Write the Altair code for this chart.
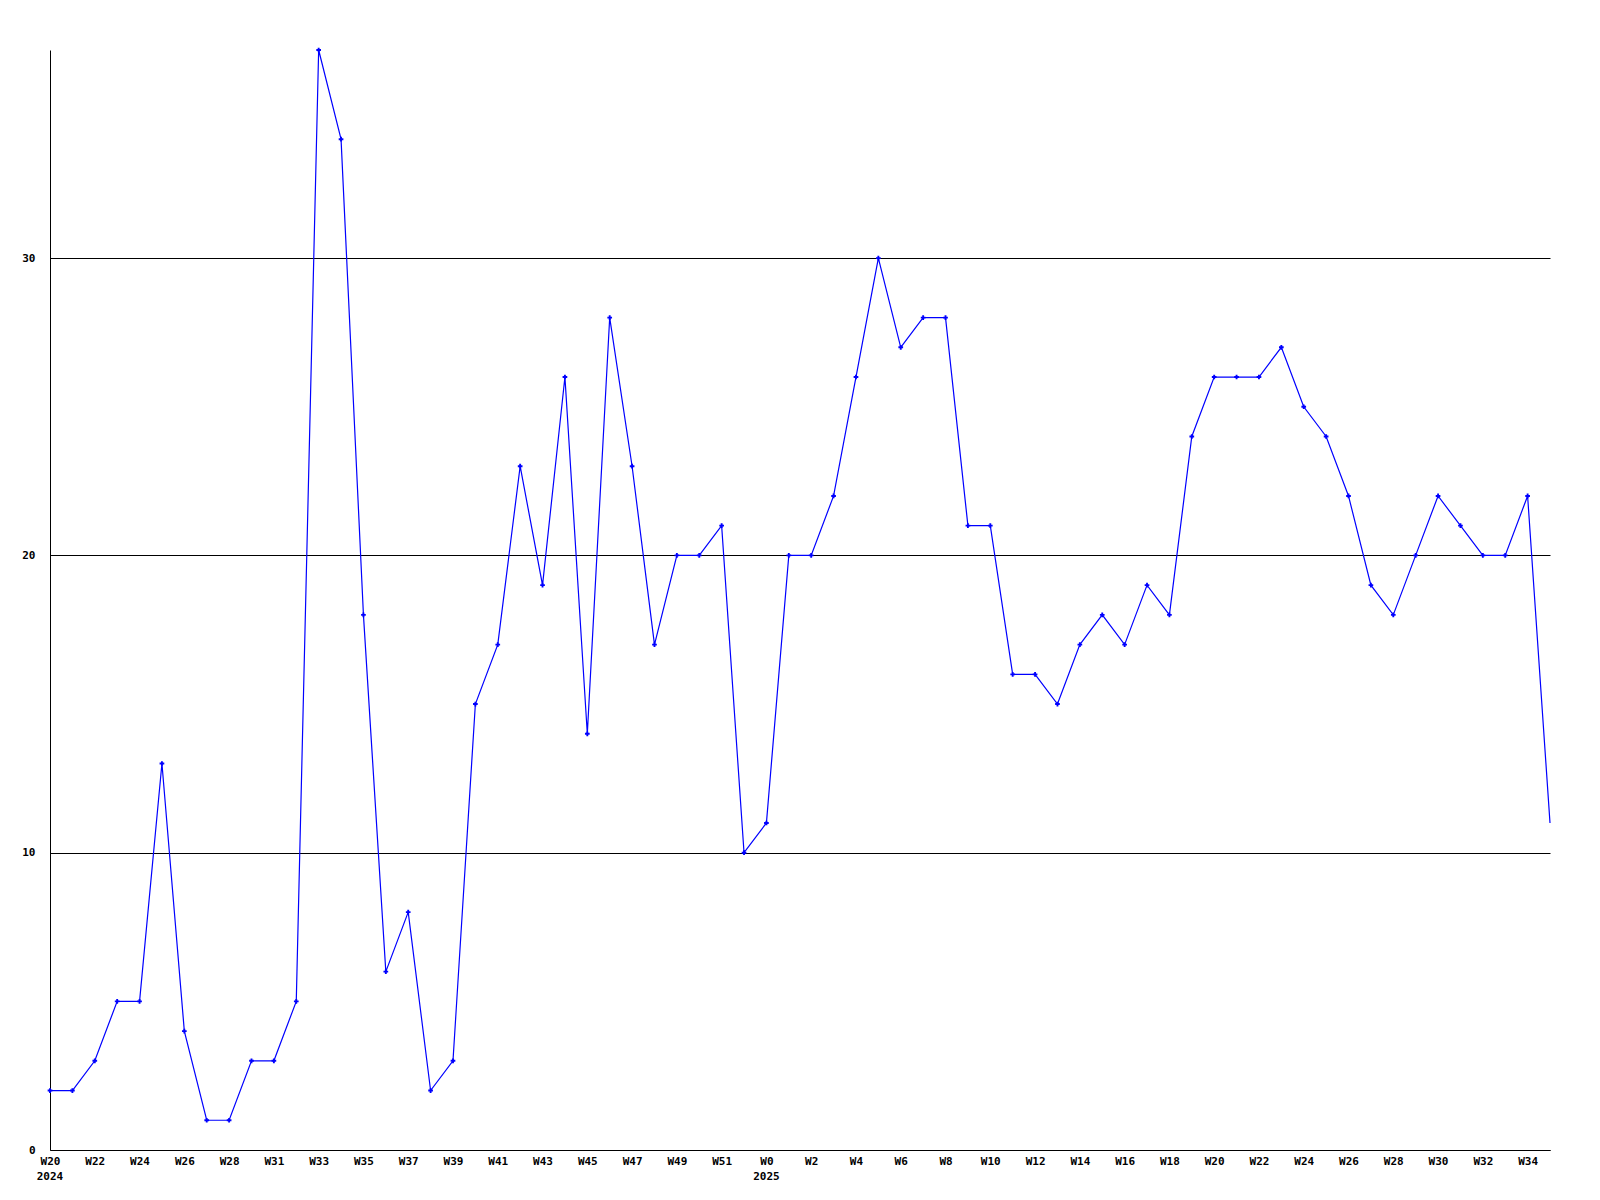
import altair as alt
import pandas as pd

values = [2, 2, 3, 5, 5, 13, 4, 1, 1, 3, 3, 5, 37, 34, 18, 6, 8, 2, 3, 15,
          17, 23, 19, 26, 14, 28, 23, 17, 20, 20, 21, 10, 11, 20, 20, 22, 26, 30, 27, 28,
          28, 21, 21, 16, 16, 15, 17, 18, 17, 19, 18, 24, 26, 26, 26, 27, 25, 24, 22, 19,
          18, 20, 22, 21, 20, 20, 22, 11]

tick_labels = ["W20", "W22", "W24", "W26", "W28", "W31", "W33", "W35", "W37", "W39",
               "W41", "W43", "W45", "W47", "W49", "W51", "W0", "W2", "W4", "W6",
               "W8", "W10", "W12", "W14", "W16", "W18", "W20", "W22", "W24", "W26",
               "W28", "W30", "W32", "W34"]

year_idx = [0, 32]
year_labels = ["2024", "2025"]

df = pd.DataFrame({"idx": list(range(len(values))), "value": values})
df["marker"] = df["idx"] < len(values) - 1
years = pd.DataFrame({"idx": year_idx, "year": year_labels})

FONT = "DejaVu Sans Mono"
label_arr = "[" + ",".join("'" + t + "'" for t in tick_labels) + "]"

x_scale = alt.Scale(domain=[0, len(values) - 1], nice=False, zero=False)
y_scale = alt.Scale(domain=[0, 37], nice=False)

x_axis = alt.Axis(values=list(range(0, 2 * len(tick_labels), 2)),
                  labelExpr=label_arr + "[round(datum.value/2)]",
                  grid=False, ticks=False, domainColor="black", domainWidth=1,
                  labelFont=FONT, labelFontWeight="bold", labelFontSize=11,
                  labelColor="black", labelPadding=5, title=None, labelFlush=False)
y_axis = alt.Axis(values=[0, 10, 20, 30], grid=True, gridColor="black", gridOpacity=1,
                  gridWidth=1, ticks=False, domainColor="black", domainWidth=1,
                  labelFont=FONT, labelFontWeight="bold", labelFontSize=11,
                  labelColor="black", labelPadding=15, title=None)

base = alt.Chart(df)
line = base.mark_line(color="#0000ff", strokeWidth=1.2).encode(
    x=alt.X("idx:Q", scale=x_scale, axis=x_axis),
    y=alt.Y("value:Q", scale=y_scale, axis=y_axis),
)
pts = base.transform_filter("datum.marker").mark_point(
    shape="cross", filled=True, color="#0000ff", size=22, opacity=1
).encode(x=alt.X("idx:Q", scale=x_scale), y=alt.Y("value:Q", scale=y_scale))

yrs = alt.Chart(years).mark_text(
    font=FONT, fontWeight="bold", fontSize=11, color="black", baseline="middle", dy=27
).encode(x=alt.X("idx:Q", scale=x_scale), y=alt.value(1100), text="year:N")

chart = alt.layer(line, pts, yrs).properties(
    width=1500, height=1100,
    background="white",
    autosize=alt.AutoSizeParams(type="none"),
    padding={"left": 42, "top": 42, "right": 42, "bottom": 50},
).configure_view(stroke=None)

chart.save("out.html", embed_options={"renderer": "svg", "actions": False})
